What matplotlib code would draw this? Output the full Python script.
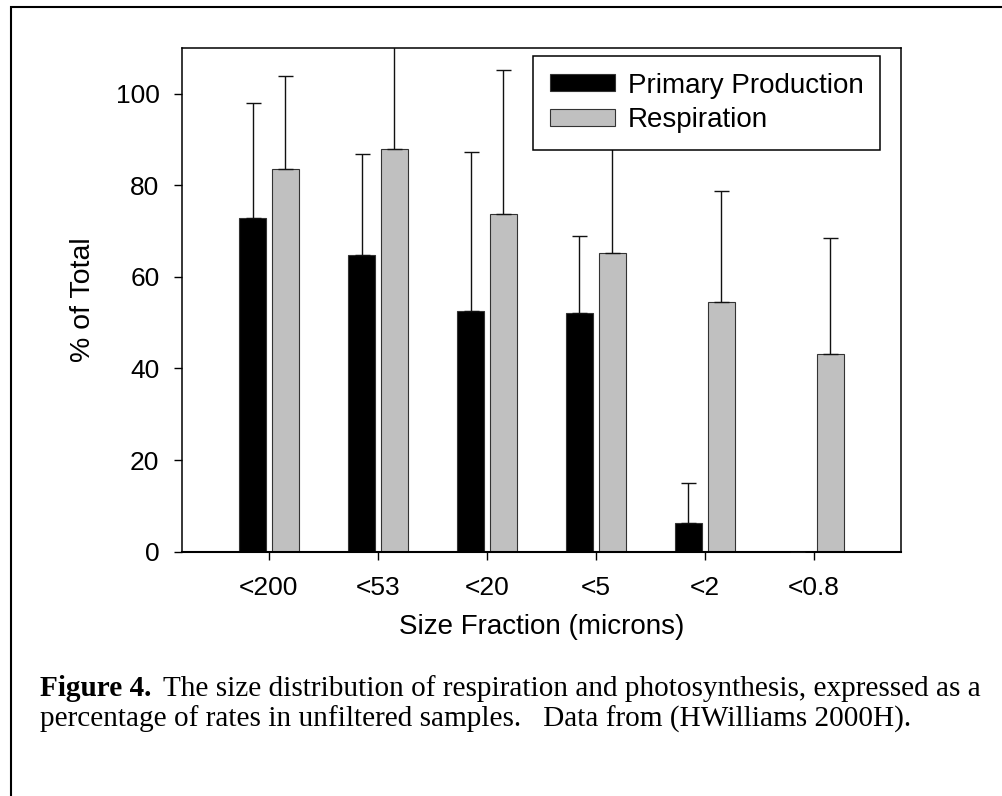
import numpy as np
import matplotlib
matplotlib.use('Agg')
import matplotlib.pyplot as plt
from matplotlib.patches import Rectangle

# size fractions (microns) and % of unfiltered rates
categories = ['<200', '<53', '<20', '<5', '<2', '<0.8']
primary = [72.8, 64.8, 52.6, 52.2, 6.2, 0.0]
primary_err = [25.2, 22.0, 34.7, 16.8, 8.8, np.nan]
respiration = [83.5, 87.8, 73.6, 65.2, 54.4, 43.2]
respiration_err = [20.3, 35.0, 31.5, 30.0, 24.4, 25.3]

caption_head = 'Figure 4.'
caption_1 = 'The size distribution of respiration and photosynthesis, expressed as a'
caption_2 = 'percentage of rates in unfiltered samples.   Data from (HWilliams 2000H).'

W, H = 1003, 796
plt.rcParams['font.family'] = ['Liberation Sans', 'DejaVu Sans']

fig = plt.figure(figsize=(W / 100, H / 100), dpi=100)

# axes box placed in pixel terms
left, right, top, bottom = 181.7, 901.0, 47.7, 551.7
ax = fig.add_axes([left / W, 1 - bottom / H, (right - left) / W, (bottom - top) / H])

x = np.arange(len(categories))
w = 0.25
off = 0.15

ax.bar(x - off, primary, w, color='black', edgecolor='#333333', linewidth=0.8,
       label='Primary Production', zorder=2)
ax.bar(x + off, respiration, w, color='#c0c0c0', edgecolor='#333333', linewidth=0.8,
       label='Respiration', zorder=2)

ax.errorbar(x - off, primary, yerr=[np.zeros(len(x)), primary_err], fmt='none',
            ecolor='#111111', elinewidth=1.0, capsize=5.4, capthick=1.0, zorder=3)
ax.errorbar(x + off, respiration, yerr=[np.zeros(len(x)), respiration_err], fmt='none',
            ecolor='#111111', elinewidth=1.0, capsize=5.4, capthick=1.0, zorder=3)

ax.set_xlim(-0.8, 5.8)
ax.set_ylim(0, 110)
ax.set_yticks([0, 20, 40, 60, 80, 100])
ax.set_xticks(x)
ax.set_xticklabels(categories)

for s in ax.spines.values():
    s.set_linewidth(1.1)
ax.spines['bottom'].set_linewidth(1.5)

ax.tick_params(axis='both', direction='out', length=5.5, width=1.0, labelsize=19)
ax.tick_params(axis='x', pad=12)
ax.tick_params(axis='y', pad=10.5)

ax.set_ylabel('% of Total', fontsize=20.5, labelpad=14)
ax.set_xlabel('Size Fraction (microns)', fontsize=20, labelpad=10)

leg = ax.legend(loc='upper right', bbox_to_anchor=(0.9712, 0.9835), borderaxespad=0,
                fontsize=20, frameon=True, fancybox=False, framealpha=1,
                edgecolor='black', handlelength=2.35, handleheight=0.55,
                handletextpad=0.45, borderpad=0.6, labelspacing=0.3)
leg.get_frame().set_linewidth(1.1)
leg.set_zorder(5)

# caption below the chart, sized so the second line ends near x=910
serif = ['Liberation Serif', 'DejaVu Serif']
renderer = fig.canvas.get_renderer()
t2 = fig.text(40 / W, 1 - 727 / H, caption_2, fontsize=24, family=serif,
              va='baseline', ha='left')
cap_size = 24 * 870 / t2.get_window_extent(renderer).width
t2.set_fontsize(cap_size)

t0 = fig.text(40 / W, 1 - 696 / H, caption_head, fontsize=cap_size, fontweight='bold',
              family=serif, va='baseline', ha='left')
head_end = t0.get_window_extent(renderer).x1
fig.text((head_end + 0.55 * cap_size) / W, 1 - 696 / H, caption_1, fontsize=cap_size,
         family=serif, va='baseline', ha='left')

# outer frame, runs off the right and bottom edges
fig.patches.append(Rectangle((10.7 / W, -0.1), 1.2, 1.1 - 6.7 / H,
                             transform=fig.transFigure, fill=False,
                             edgecolor='black', linewidth=1.5))

fig.savefig('out.png', dpi=100)
